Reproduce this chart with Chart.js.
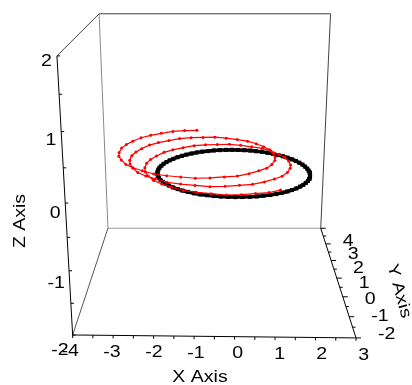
<!DOCTYPE html>
<html>
<head>
<meta charset="utf-8">
<script src="https://cdn.jsdelivr.net/npm/chart.js@4.4.1/dist/chart.umd.min.js"></script>
<style>
  html, body { margin: 0; padding: 0; background: #fff; }
  #wrap { width: 412px; height: 385px; }
</style>
</head>
<body>
<div id="wrap"><canvas id="chart" width="412" height="385"></canvas></div>
<script>
// tick labels of the three axes (first and last = box limits)
const xTicks = [-4, -3, -2, -1, 0, 1, 2, 3];
const yTicks = [-2, -1, 0, 1, 2, 3, 4];
const zTicks = [-2, -1, 0, 1, 2];

// red trajectory, spiralling down onto the cycle
const redX = [
  -1.00, -1.35, -1.68, -2.00, -2.28, -2.53, -2.73, -2.87, -2.96, -2.99,
  -2.96, -2.86, -2.71, -2.51, -2.26, -1.97, -1.65, -1.31, -0.96, -0.61,
  -0.27, 0.05, 0.34, 0.59, 0.80, 0.95, 1.05, 1.08, 1.06, 0.98,
  0.84, 0.65, 0.42, 0.14, -0.17, -0.49, -0.83, -1.17, -1.49, -1.79,
  -2.07, -2.30, -2.49, -2.62, -2.70, -2.72, -2.68, -2.58, -2.42, -2.20,
  -1.95, -1.65, -1.32, -0.97, -0.61, -0.25, 0.10, 0.42, 0.72, 0.98,
  1.19, 1.35, 1.45, 1.49, 1.47, 1.39, 1.25, 1.06, 0.83, 0.55,
  0.24, -0.08, -0.42, -0.76, -1.08, -1.39, -1.67, -1.90, -2.09, -2.23,
  -2.31, -2.33, -2.29, -2.19, -2.03, -1.81, -1.56, -1.26, -0.93, -0.58,
  -0.22, 0.14, 0.49, 0.82, 1.12
];
const redY = [
  2.00, 1.97, 1.89, 1.77, 1.59, 1.38, 1.13, 0.85, 0.55, 0.25,
  -0.05, -0.35, -0.63, -0.88, -1.09, -1.27, -1.39, -1.47, -1.50, -1.47,
  -1.39, -1.27, -1.09, -0.88, -0.63, -0.35, -0.05, 0.25, 0.55, 0.85,
  1.13, 1.38, 1.59, 1.77, 1.89, 1.97, 2.00, 1.97, 1.89, 1.77,
  1.59, 1.38, 1.13, 0.85, 0.55, 0.25, -0.05, -0.35, -0.63, -0.88,
  -1.09, -1.27, -1.39, -1.47, -1.50, -1.47, -1.39, -1.27, -1.09, -0.88,
  -0.63, -0.35, -0.05, 0.25, 0.55, 0.85, 1.13, 1.38, 1.59, 1.77,
  1.89, 1.97, 2.00, 1.97, 1.89, 1.77, 1.59, 1.38, 1.13, 0.85,
  0.55, 0.25, -0.05, -0.35, -0.63, -0.88, -1.09, -1.27, -1.39, -1.47,
  -1.50, -1.47, -1.39, -1.27, -1.09
];
const redZ = [
  0.33, 0.33, 0.33, 0.32, 0.32, 0.32, 0.31, 0.31, 0.31, 0.30,
  0.30, 0.30, 0.29, 0.29, 0.29, 0.28, 0.28, 0.28, 0.27, 0.27,
  0.27, 0.26, 0.26, 0.26, 0.25, 0.25, 0.25, 0.24, 0.24, 0.24,
  0.23, 0.23, 0.23, 0.22, 0.22, 0.22, 0.21, 0.21, 0.21, 0.20,
  0.20, 0.20, 0.19, 0.19, 0.19, 0.18, 0.18, 0.18, 0.17, 0.17,
  0.17, 0.16, 0.16, 0.16, 0.15, 0.15, 0.15, 0.14, 0.14, 0.14,
  0.13, 0.13, 0.13, 0.12, 0.12, 0.12, 0.11, 0.11, 0.11, 0.10,
  0.10, 0.10, 0.09, 0.09, 0.09, 0.08, 0.08, 0.08, 0.07, 0.07,
  0.07, 0.06, 0.06, 0.06, 0.05, 0.05, 0.05, 0.04, 0.04, 0.04,
  0.03, 0.03, 0.03, 0.02, 0.02
];

// black closed cycle
const blackX = [
  2.00, 1.99, 1.97, 1.93, 1.88, 1.81, 1.73, 1.64, 1.53, 1.41, 1.29, 1.15, 1.00, 0.85, 0.68, 0.52, 0.35, 0.17, 0.00,
  -0.17, -0.35, -0.52, -0.68, -0.85, -1.00, -1.15, -1.29, -1.41, -1.53, -1.64, -1.73, -1.81, -1.88, -1.93, -1.97, -1.99, -2.00,
  -1.99, -1.97, -1.93, -1.88, -1.81, -1.73, -1.64, -1.53, -1.41, -1.29, -1.15, -1.00, -0.85, -0.68, -0.52, -0.35, -0.17, 0.00,
  0.17, 0.35, 0.52, 0.68, 0.85, 1.00, 1.15, 1.29, 1.41, 1.53, 1.64, 1.73, 1.81, 1.88, 1.93, 1.97, 1.99, 2.00
];
const blackY = [
  0.25, 0.40, 0.55, 0.70, 0.85, 0.99, 1.13, 1.25, 1.38, 1.49, 1.59, 1.68, 1.77, 1.84, 1.89, 1.94, 1.97, 1.99, 2.00,
  1.99, 1.97, 1.94, 1.89, 1.84, 1.77, 1.68, 1.59, 1.49, 1.38, 1.25, 1.13, 0.99, 0.85, 0.70, 0.55, 0.40, 0.25,
  0.10, -0.05, -0.20, -0.35, -0.49, -0.63, -0.75, -0.88, -0.99, -1.09, -1.18, -1.27, -1.34, -1.39, -1.44, -1.47, -1.49, -1.50,
  -1.49, -1.47, -1.44, -1.39, -1.34, -1.27, -1.18, -1.09, -0.99, -0.88, -0.75, -0.63, -0.49, -0.35, -0.20, -0.05, 0.10, 0.25
];
const blackZ = [
  0, 0, 0, 0, 0, 0, 0, 0, 0, 0, 0, 0, 0, 0, 0, 0, 0, 0, 0,
  0, 0, 0, 0, 0, 0, 0, 0, 0, 0, 0, 0, 0, 0, 0, 0, 0, 0,
  0, 0, 0, 0, 0, 0, 0, 0, 0, 0, 0, 0, 0, 0, 0, 0, 0, 0,
  0, 0, 0, 0, 0, 0, 0, 0, 0, 0, 0, 0, 0, 0, 0, 0, 0, 0
];

const xMin = xTicks[0], xMax = xTicks[xTicks.length - 1];
const yMin = yTicks[0], yMax = yTicks[yTicks.length - 1];
const zMin = zTicks[0], zMax = zTicks[zTicks.length - 1];

// view: screen spot of each box corner (key = x,y,z high bits) + perspective squeeze
const corners = {
  '000': [70, 338], '100': [359, 341], '010': [106, 229], '110': [323, 229],
  '001': [54, 53],  '101': [376, 56],  '011': [97, 10],   '111': [333, 10]
};
const depthSqueeze = 0.2;
const heightSqueeze = 0.116;

function project(x, y, z) {
  const u = (x - xMin) / (xMax - xMin);
  let v = (y - yMin) / (yMax - yMin);
  let w = (z - zMin) / (zMax - zMin);
  v = (1 + depthSqueeze) * v / (1 + depthSqueeze * v);
  const t = 1 - w;
  w = 1 - (1 + heightSqueeze) * t / (1 + heightSqueeze * t);
  let px = 0, py = 0;
  for (const key in corners) {
    const k = (key[0] === '1' ? u : 1 - u) * (key[1] === '1' ? v : 1 - v) * (key[2] === '1' ? w : 1 - w);
    px += k * corners[key][0];
    py += k * corners[key][1];
  }
  return { x: px, y: py };
}

function cornerPoint(key) {
  return project(key[0] === '1' ? xMax : xMin, key[1] === '1' ? yMax : yMin, key[2] === '1' ? zMax : zMin);
}

function withMinors(ticks) {
  const out = [];
  ticks.forEach((v, i) => {
    out.push({ v: v, major: true });
    if (i < ticks.length - 1) out.push({ v: (v + ticks[i + 1]) / 2, major: false });
  });
  return out;
}

const redPoints = redX.map((x, i) => project(x, redY[i], redZ[i]));
const blackPoints = blackX.map((x, i) => project(x, blackY[i], blackZ[i]));

const FONT = "16px 'Liberation Sans', Arial, sans-serif";

function wideText(ctx, text, x, y, align, angle) {
  ctx.save();
  ctx.translate(x, y);
  if (angle) ctx.rotate(angle);
  ctx.scale(1.22, 1);
  ctx.textAlign = align;
  ctx.textBaseline = 'middle';
  ctx.fillText(text, 0, 0);
  ctx.restore();
}

const boxPlugin = {
  id: 'box3d',
  beforeDatasetsDraw(chart) {
    const ctx = chart.ctx;
    const sx = chart.scales.x, sy = chart.scales.y;
    const pix = p => [sx.getPixelForValue(p.x), sy.getPixelForValue(p.y)];

    const edges = [
      ['011', '111', '#444'], ['111', '110', '#444'], ['110', '010', '#999'], ['010', '011', '#888'],
      ['001', '011', '#444'], ['000', '010', '#555'],
      ['000', '001', '#000'], ['000', '100', '#000'], ['100', '110', '#000']
    ];
    ctx.save();
    ctx.lineWidth = 1;
    edges.forEach(e => {
      const a = pix(cornerPoint(e[0])), b = pix(cornerPoint(e[1]));
      ctx.strokeStyle = e[2];
      ctx.beginPath();
      ctx.moveTo(a[0], a[1]);
      ctx.lineTo(b[0], b[1]);
      ctx.stroke();
    });

    // ticks
    ctx.strokeStyle = '#000';
    ctx.beginPath();
    withMinors(xTicks).forEach(t => {
      const p = pix(project(t.v, yMin, zMin));
      ctx.moveTo(p[0], p[1]);
      ctx.lineTo(p[0], p[1] + 3);
    });
    withMinors(zTicks).forEach(t => {
      const p = pix(project(xMin, yMin, t.v));
      ctx.moveTo(p[0], p[1]);
      ctx.lineTo(p[0] + 3, p[1]);
    });
    withMinors(yTicks).forEach(t => {
      const p = pix(project(xMax, t.v, zMin));
      ctx.moveTo(p[0], p[1]);
      ctx.lineTo(p[0] + (t.major ? 5 : 3), p[1]);
    });
    ctx.stroke();

    // tick labels
    ctx.fillStyle = '#000';
    ctx.font = FONT;
    xTicks.forEach(v => {
      const q = pix(project(v, yMin - 0.7, zMin));
      wideText(ctx, String(v), q[0] + 2.5, q[1] + 1.5, 'center');
    });
    zTicks.forEach(v => {
      const q = pix(project(xMin, yMin - 0.7, v));
      wideText(ctx, String(v), q[0] + 1, q[1], 'right');
    });
    const yBottom = pix(project(xMax, yMin, zMin))[1];
    const yTop = pix(project(xMax, yMax, zMin))[1];
    yTicks.forEach(v => {
      const p = pix(project(xMax, v, zMin));
      const f = (p[1] - yBottom) / (yTop - yBottom);
      wideText(ctx, String(v), p[0] + 22, p[1] - 3.5 + 17 * f, 'left');
    });

    // axis titles
    wideText(ctx, 'X Axis', 200, 378, 'center');
    wideText(ctx, 'Z Axis', 21, 221, 'center', -Math.PI / 2);
    wideText(ctx, 'Y Axis', 399, 291, 'center', 75 * Math.PI / 180);
    ctx.restore();
  }
};

new Chart(document.getElementById('chart').getContext('2d'), {
  type: 'scatter',
  data: {
    datasets: [
      {
        label: 'trajectory',
        data: redPoints,
        showLine: true,
        borderColor: '#ff0000',
        borderWidth: 1.2,
        pointRadius: 1.5,
        pointBackgroundColor: '#ff0000',
        pointBorderWidth: 0
      },
      {
        label: 'cycle',
        data: blackPoints,
        showLine: true,
        borderColor: '#000000',
        borderWidth: 3.5,
        pointStyle: 'rect',
        pointRadius: 2.9,
        pointBackgroundColor: '#000000',
        pointBorderWidth: 0
      }
    ]
  },
  options: {
    responsive: false,
    animation: false,
    devicePixelRatio: 1,
    events: [],
    layout: { padding: 0 },
    scales: {
      x: { type: 'linear', display: false, min: 0, max: 412 },
      y: { type: 'linear', display: false, min: 0, max: 385, reverse: true }
    },
    plugins: {
      legend: { display: false },
      tooltip: { enabled: false }
    }
  },
  plugins: [boxPlugin]
});
</script>
</body>
</html>
